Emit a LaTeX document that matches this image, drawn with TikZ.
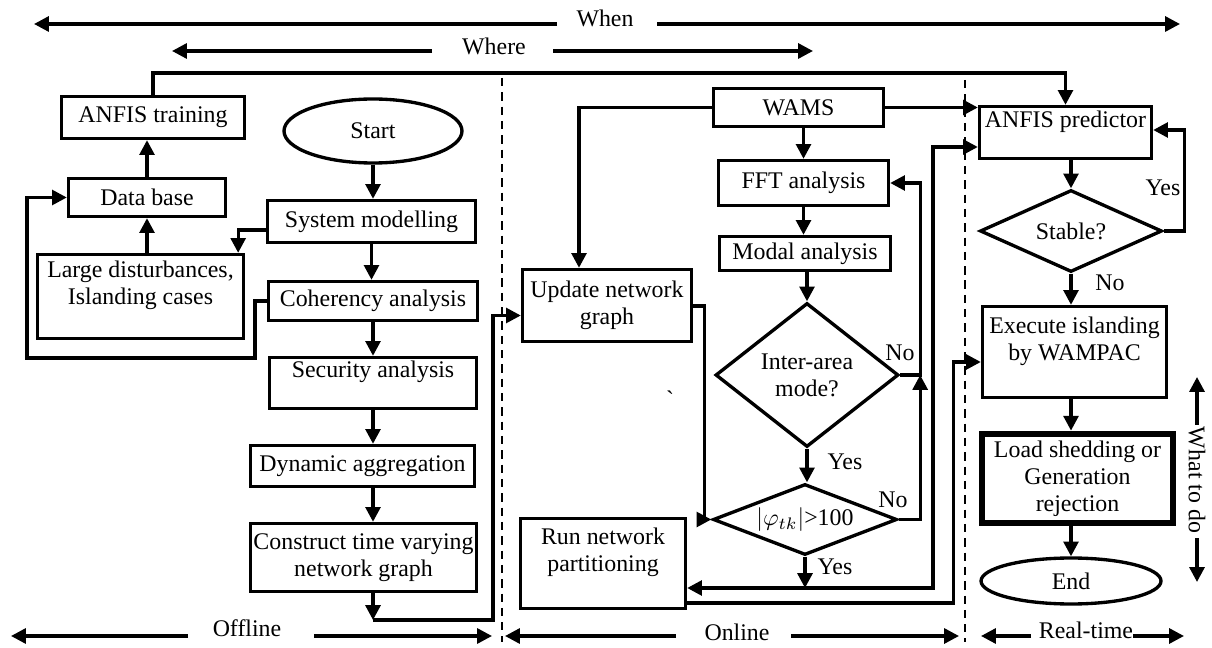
\documentclass[tikz,border=0pt]{standalone}
\usepackage{fontspec}
\setmainfont{Liberation Serif}
\usetikzlibrary{shapes.geometric,arrows.meta,calc}
\newdimen\pxu
\pxu=0.419pt

\begin{document}
\begin{tikzpicture}[x=\pxu, y=-\pxu,
	font=\fontsize{10}{11.3}\selectfont,
	arr/.style={line width=1.4pt, -{Triangle[length=6.2pt,width=6.2pt]}},
	box/.style={draw, line width=1.4pt, rectangle, align=center, inner sep=1pt},
	decision/.style={draw, line width=1.4pt, diamond, align=center, inner sep=0pt},
	term/.style={draw, line width=1.4pt, ellipse, inner sep=0pt},
	lbl/.style={inner sep=1pt},
	divider/.style={line width=0.6pt, dash pattern=on 3.5pt off 2.5pt}]
	\useasboundingbox (0,0) rectangle (1212,648);
	
	% offline
	\node[box, minimum width=183\pxu, minimum height=42\pxu] (training) at (153,117.5) {ANFIS training};
	\node[term, minimum width=178\pxu, minimum height=64\pxu] (start) at (373,131) {Start};
	\node[box, minimum width=157\pxu, minimum height=38\pxu] (database) at (147,197.5) {Data base};
	\node[box, minimum width=208\pxu, minimum height=42\pxu] (sysmod) at (371.5,221.5) {System modelling};
	\node[box, minimum width=206\pxu, minimum height=84\pxu] (disturb) at (140.5,296.5) {Large disturbances,\\Islanding cases\\ \mbox{}};
	\node[box, minimum width=209\pxu, minimum height=39\pxu] (coherency) at (373,301) {Coherency analysis};
	\node[box, minimum width=207\pxu, minimum height=51\pxu] (security) at (373,383) {Security analysis\\ \mbox{}};
	\node[box, minimum width=224\pxu, minimum height=41\pxu] (dynamic) at (362.5,466) {Dynamic aggregation};
	\node[box, minimum width=226\pxu, minimum height=68\pxu] (construct) at (363.5,557.5) {Construct time varying\\network graph};
	
	% online
	\node[box, minimum width=170\pxu, minimum height=38\pxu] (wams) at (798.5,107.5) {WAMS};
	\node[box, minimum width=169\pxu, minimum height=72\pxu] (update) at (607,305.5) {Update network\\graph};
	\node[box, minimum width=170\pxu, minimum height=45\pxu] (fft) at (803.5,183) {FFT analysis};
	\node[box, minimum width=171\pxu, minimum height=34\pxu] (modal) at (805,253.5) {Modal analysis};
	\node[decision, aspect=1.27, minimum width=183\pxu, minimum height=144\pxu] (interarea) at (807,375) {Inter-area\\mode?};
	\node[decision, aspect=2.6, minimum width=184\pxu, minimum height=71\pxu] (phase) at (805,519.5) {$|\varphi_{tk}|$>100};
	\node[box, minimum width=165\pxu, minimum height=90\pxu] (partition) at (603,563.5) {Run network\\partitioning\\ \mbox{}};
	
	% real-time
	\node[box, minimum width=172\pxu, minimum height=52\pxu] (predictor) at (1065.5,132.5) {ANFIS predictor\\ \mbox{}};
	\node[decision, aspect=2.2, minimum width=182\pxu, minimum height=82\pxu] (stable) at (1071,231) {Stable?};
	\node[box, minimum width=184\pxu, minimum height=91\pxu] (execute) at (1074.5,352) {Execute islanding\\by WAMPAC\\ \mbox{}};
	\node[box, line width=2.8pt, minimum width=191\pxu, minimum height=89\pxu] (shedding) at (1077.5,478.5) {Load shedding or\\Generation\\rejection};
	\node[term, minimum width=180\pxu, minimum height=46\pxu] (finish) at (1071,581) {End};
	
	\node[lbl] (no1) at (900,353) {No};
	\node[lbl] (yes1) at (845,462) {Yes};
	\node[lbl] (no2) at (893,500) {No};
	\node[lbl] (yes2) at (835,567) {Yes};
	\node[lbl] (yes3) at (1163,188) {Yes};
	\node[lbl] (no3) at (1110,283) {No};
	\node[lbl] (tick) at (670,399) {\textasciigrave};
	
	% scales
	\node[lbl] (when) at (605,18) {When};
	\node[lbl] (where) at (494,46) {Where};
	\node[lbl] (offline) at (247,628) {Offline};
	\node[lbl] (online) at (737,632) {Online};
	\node[lbl] (realtime) at (1086,630) {Real-time};
	\node[lbl, rotate=-90] (whattodo) at (1197,480) {What to do};
	\draw[arr] (557,24) -- (34,24);
	\draw[arr] (657,24) -- (1180,24);
	\draw[arr] (432,51) -- (172,51);
	\draw[arr] (553,51) -- (813,51);
	\draw[arr] (188,636) -- (11,636);
	\draw[arr] (314,636) -- (492,636);
	\draw[arr] (676,636) -- (505,636);
	\draw[arr] (791,636) -- (959,636);
	\draw[arr] (1031,636) -- (981,636);
	\draw[arr] (1133,636) -- (1184,636);
	\draw[arr] (1197,425) -- (1197,377);
	\draw[arr] (1197,538) -- (1197,582);
	\draw[divider] (502,78) -- (502,642);
	\draw[divider] (965,80) -- (965,642);
	
	% connectors
	\coordinate (topbus) at (0,73);
	\coordinate (loopbus) at (27,358);
	\coordinate (offend) at (373,620);
	\coordinate (phibus) at (805,588);
	\draw[arr] (training.north) -- (training.north |- topbus) -| (predictor.north);
	\draw[arr] (start.south) -- (start.south |- sysmod.north);
	\draw[arr] (sysmod.south) -- (sysmod.south |- coherency.north);
	\draw[arr] (coherency.south) -- (coherency.south |- security.north);
	\draw[arr] (security.south) -- (security.south |- dynamic.north);
	\draw[arr] (dynamic.south -| security.south) -- (construct.north -| security.south);
	\draw[arr] (construct.south -| offend) -- (offend);
	\draw[arr] (offend) -| ($(update.west)+(-28,10)$) -- ($(update.west)+(0,10)$);
	\draw[arr] ($(sysmod.west)+(0,8.5)$) -| ($(disturb.north east)+(-7,0)$);
	\draw[arr] (database.south |- disturb.north) -- (database.south);
	\draw[arr] (database.north) -- (database.north |- training.south);
	\draw[arr] (coherency.west) -- ++(-12,0) |- (loopbus) |- (database.west);
	\draw[arr] (wams.west) -| ($(update.north)+(-28,0)$);
	\draw[arr] (wams.east) -- (wams.east -| predictor.west);
	\draw[arr] (fft.north |- wams.south) -- (fft.north);
	\draw[arr] (fft.south) -- (fft.south |- modal.north);
	\draw[arr] (modal.south -| interarea) -- (interarea.north);
	\draw[arr] (interarea.east) -- ++(20,0) |- (fft.east);
	\draw[arr] (interarea.south) -- (interarea.south |- phase.north);
	\draw[arr] (phase.east) -| ($(interarea.east)+(20,0)$);
	\draw[arr] ($(update.east)+(0,0.5)$) -- ++(11,0) |- (phase.west);
	\draw[arr] (phase.south) -- (phibus);
	\draw[arr] (phibus) -- (phibus -| partition.east);
	\draw[arr] (phibus) -- ++(128,0) |- ($(predictor.west)+(0,14.5)$);
	\draw[arr] ($(partition.east)+(0,39.5)$) -- ++(266,0) |- ($(execute.west)+(0,10)$);
	\draw[arr] (predictor.south -| stable) -- (stable.north);
	\draw[arr] (stable.east) -- ++(21,0) |- ($(predictor.east)+(0,-2.5)$);
	\draw[arr] (stable.south) -- (stable.south |- execute.north);
	\draw[arr] (execute.south -| finish) -- (shedding.north -| finish);
	\draw[arr] (shedding.south -| finish) -- (finish.north);
\end{tikzpicture}
\end{document}
